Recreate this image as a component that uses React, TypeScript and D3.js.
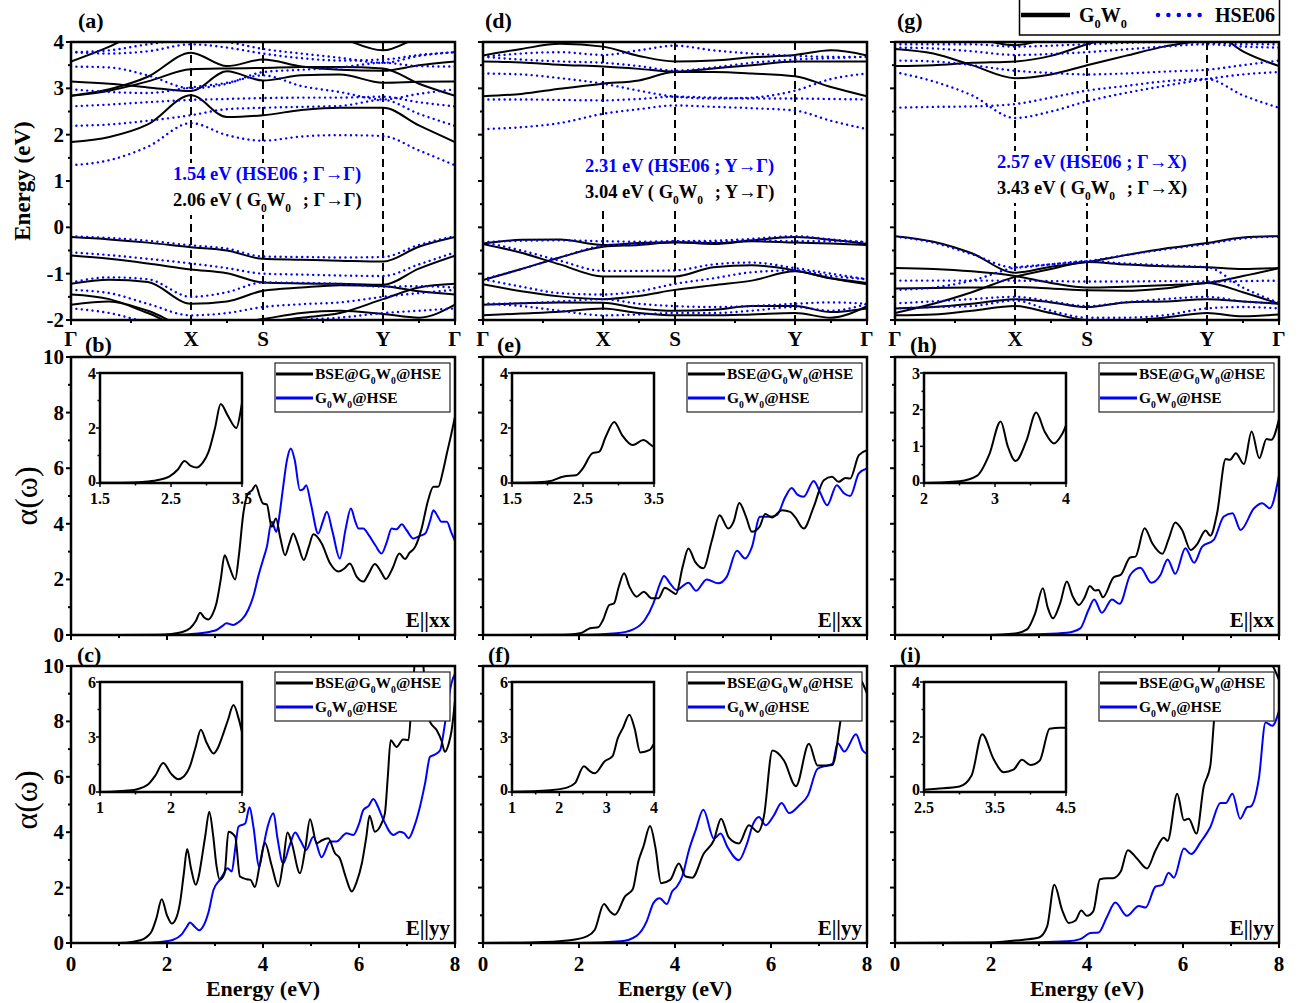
import React from "react";
import * as d3 from "d3";

type Pt = [number, number];

const FONT = "'Liberation Serif', 'Times New Roman', Times, serif";
const BLUE = "#0000ff";

// k path Γ-X-S-Y-Γ (fraction of path length) and the points where bands were read
const kPath = [0, 0.1, 0.2, 0.3125, 0.406, 0.5, 0.6, 0.7, 0.8125, 0.906, 1];
const kSym = [0, 0.3125, 0.5, 0.8125, 1];
const kSymLabels = ["Γ", "X", "S", "Y", "Γ"];
const energyTicks = [-2, -1, 0, 1, 2, 3, 4];

// ---- band energies (eV) at kPath, panel (a) ----
const bandA_gw = [
  [1.84, 1.95, 2.22, 2.85, 2.38, 2.42, 2.53, 2.58, 2.58, 2.2, 1.84],
  [3.15, 3.1, 3.02, 2.94, 3.37, 3.17, 3.28, 3.3, 3.12, 3.14, 3.15],
  [2.84, 2.98, 3.25, 3.77, 3.48, 3.62, 3.47, 3.4, 3.38, 3.5, 3.58],
  [2.84, 2.95, 3.15, 3.41, 3.43, 3.44, 3.46, 3.46, 3.43, 3.1, 2.84],
  [3.58, 3.9, 4.3, 4.5, 4.5, 4.5, 4.4, 4.1, 3.82, 4.1, 4.3],
  [-0.21, -0.26, -0.33, -0.43, -0.5, -0.68, -0.7, -0.72, -0.74, -0.42, -0.21],
  [-0.61, -0.68, -0.78, -0.91, -0.99, -1.19, -1.21, -1.22, -1.24, -0.89, -0.61],
  [-1.22, -1.13, -1.18, -1.65, -1.6, -1.37, -1.3, -1.25, -1.27, -1.38, -1.45],
  [-1.45, -1.55, -1.85, -2.2, -2.2, -2.05, -1.95, -1.85, -1.55, -1.3, -1.22],
  [-1.67, -1.6, -1.8, -2.15, -2.1, -1.98, -1.85, -1.8, -1.87, -1.95, -1.67],
];
const bandA_hse = [
  [1.34, 1.45, 1.74, 2.25, 1.99, 1.87, 1.96, 1.99, 1.97, 1.66, 1.34],
  [2.19, 2.22, 2.3, 2.42, 2.55, 2.58, 2.6, 2.62, 2.75, 2.45, 2.19],
  [2.61, 2.65, 2.7, 2.75, 2.77, 2.79, 2.8, 2.8, 2.82, 2.7, 2.61],
  [2.98, 2.92, 2.9, 3.02, 3.12, 3.28, 3.05, 2.92, 2.76, 2.88, 2.98],
  [3.47, 3.45, 3.28, 3.0, 3.1, 3.35, 3.4, 3.45, 3.55, 3.48, 3.47],
  [3.78, 3.75, 3.8, 3.95, 3.88, 3.75, 3.65, 3.6, 3.62, 3.72, 3.78],
  [3.78, 3.82, 3.95, 4.05, 4.0, 3.85, 3.75, 3.66, 3.55, 3.7, 3.78],
  [-0.19, -0.23, -0.29, -0.39, -0.46, -0.63, -0.64, -0.65, -0.64, -0.38, -0.19],
  [-0.54, -0.6, -0.68, -0.78, -0.88, -1.0, -1.02, -1.04, -1.05, -0.8, -0.54],
  [-1.19, -1.08, -1.12, -1.5, -1.4, -1.19, -1.2, -1.22, -1.28, -1.27, -1.3],
  [-1.35, -1.42, -1.65, -1.9, -1.85, -1.72, -1.66, -1.62, -1.5, -1.42, -1.35],
  [-1.75, -1.85, -2.05, -2.2, -2.2, -2.1, -2.0, -1.95, -1.85, -1.8, -1.75],
];

// ---- panel (d) ----
const bandD_gw = [
  [2.83, 2.88, 2.99, 3.1, 3.17, 3.35, 3.35, 3.32, 3.26, 3.03, 2.83],
  [3.58, 3.56, 3.51, 3.47, 3.42, 3.36, 3.43, 3.5, 3.58, 3.58, 3.58],
  [3.71, 3.85, 3.96, 3.9, 3.7, 3.58, 3.6, 3.67, 3.72, 3.82, 3.71],
  [-0.35, -0.27, -0.26, -0.38, -0.34, -0.32, -0.36, -0.28, -0.21, -0.27, -0.36],
  [-0.36, -0.55, -0.8, -1.06, -1.06, -1.06, -0.86, -0.82, -0.93, -1.1, -1.23],
  [-1.14, -0.9, -0.65, -0.42, -0.38, -0.32, -0.34, -0.3, -0.33, -0.35, -0.38],
  [-1.23, -1.38, -1.49, -1.55, -1.48, -1.35, -1.25, -1.15, -0.95, -1.1, -1.2],
  [-1.67, -1.64, -1.62, -1.63, -1.75, -1.8, -1.78, -1.7, -1.7, -1.83, -1.75],
  [-1.9, -1.86, -1.82, -1.75, -1.85, -1.9, -1.9, -1.88, -1.85, -1.95, -1.7],
];
const bandD_hse = [
  [2.12, 2.16, 2.25, 2.45, 2.55, 2.63, 2.6, 2.57, 2.52, 2.3, 2.12],
  [2.76, 2.76, 2.75, 2.74, 2.77, 2.82, 2.8, 2.78, 2.78, 2.77, 2.76],
  [3.32, 3.3, 3.22, 3.1, 2.95, 2.82, 2.78, 2.8, 2.95, 3.2, 3.32],
  [3.68, 3.62, 3.58, 3.55, 3.48, 3.38, 3.45, 3.55, 3.62, 3.65, 3.68],
  [3.68, 3.75, 3.78, 3.72, 3.82, 3.92, 3.82, 3.75, 3.7, 3.68, 3.68],
  [-0.32, -0.29, -0.28, -0.3, -0.31, -0.3, -0.29, -0.25, -0.19, -0.26, -0.32],
  [-1.12, -0.9, -0.65, -0.4, -0.36, -0.3, -0.32, -0.28, -0.3, -0.3, -0.32],
  [-0.32, -0.5, -0.72, -0.94, -0.94, -0.93, -0.8, -0.76, -0.88, -1.0, -1.12],
  [-1.12, -1.28, -1.42, -1.45, -1.38, -1.22, -1.1, -0.97, -0.93, -1.05, -1.12],
  [-1.65, -1.64, -1.6, -1.55, -1.65, -1.7, -1.72, -1.7, -1.65, -1.62, -1.65],
  [-1.65, -1.7, -1.8, -1.9, -1.88, -1.85, -1.85, -1.8, -1.72, -1.8, -1.65],
];

// ---- panel (g) ----
const bandG_gw = [
  [3.48, 3.5, 3.55, 3.58, 3.7, 3.95, 4.2, 4.4, 4.3, 3.8, 3.48],
  [3.85, 3.75, 3.5, 3.22, 3.3, 3.5, 3.7, 3.9, 4.05, 4.2, 4.3],
  [4.4, 4.3, 4.1, 3.93, 4.1, 4.3, 4.4, 4.4, 4.4, 4.4, 4.4],
  [-0.19, -0.31, -0.56, -0.98, -0.85, -0.75, -0.6, -0.46, -0.34, -0.22, -0.19],
  [-1.85, -1.65, -1.4, -1.07, -0.9, -0.75, -0.8, -0.84, -0.86, -0.9, -0.88],
  [-0.88, -0.9, -0.95, -1.05, -1.2, -1.3, -1.28, -1.25, -1.2, -1.05, -0.88],
  [-1.32, -1.31, -1.3, -1.29, -1.32, -1.36, -1.37, -1.32, -1.2, -1.4, -1.65],
  [-1.75, -1.72, -1.65, -1.55, -1.62, -1.72, -1.62, -1.6, -1.55, -1.6, -1.65],
  [-1.9, -1.88, -1.8, -1.7, -1.85, -2.0, -2.0, -1.95, -1.85, -1.92, -1.88],
];
const bandG_hse = [
  [2.58, 2.6, 2.61, 2.66, 2.8, 2.95, 3.05, 3.15, 3.2, 2.85, 2.58],
  [3.35, 3.15, 2.85, 2.36, 2.5, 2.72, 2.9, 3.05, 3.2, 3.3, 3.35],
  [3.6, 3.58, 3.5, 3.38, 3.33, 3.3, 3.32, 3.36, 3.4, 3.5, 3.6],
  [3.88, 3.86, 3.8, 3.72, 3.74, 3.78, 3.84, 3.9, 3.95, 3.9, 3.88],
  [3.95, 3.95, 3.95, 3.9, 3.92, 3.95, 3.98, 4.0, 3.98, 3.95, 3.95],
  [-0.2, -0.33, -0.58, -0.87, -0.8, -0.73, -0.6, -0.48, -0.36, -0.24, -0.2],
  [-1.15, -1.15, -1.15, -1.15, -1.16, -1.17, -1.17, -1.16, -1.17, -1.16, -1.15],
  [-1.35, -1.3, -1.15, -0.87, -0.8, -0.73, -0.78, -0.82, -0.86, -1.3, -1.63],
  [-1.64, -1.6, -1.55, -1.5, -1.6, -1.7, -1.62, -1.55, -1.5, -1.6, -1.64],
  [-1.75, -1.72, -1.7, -1.58, -1.8, -1.95, -1.95, -1.9, -1.75, -1.72, -1.75],
];

// ---- absorption α(ω) : [energy eV, value] ----
const absB_bse: Pt[] = [[0,0],[1.0,0],[1.8,0.01],[2.1,0.04],[2.3,0.1],[2.48,0.24],[2.6,0.5],[2.69,0.8],[2.78,0.62],[2.86,0.56],[2.95,0.75],[3.03,1.14],[3.12,2.0],[3.2,2.87],[3.3,2.45],[3.42,2.0],[3.5,2.9],[3.59,4.37],[3.69,5.09],[3.77,5.2],[3.85,5.39],[3.93,5.0],[4.0,4.73],[4.08,4.7],[4.18,3.89],[4.27,4.19],[4.36,3.5],[4.46,2.87],[4.55,3.3],[4.63,3.65],[4.72,3.3],[4.85,2.7],[4.95,3.15],[5.05,3.62],[5.22,3.3],[5.4,2.57],[5.57,2.28],[5.7,2.4],[5.81,2.57],[5.95,2.1],[6.09,1.92],[6.2,2.2],[6.33,2.55],[6.45,2.3],[6.56,2.01],[6.7,2.4],[6.84,2.93],[6.96,2.73],[7.05,2.95],[7.17,3.17],[7.3,3.8],[7.44,4.85],[7.55,5.33],[7.65,5.33],[7.75,5.9],[7.83,6.53],[7.92,7.2],[8,7.85]];
const absB_gw: Pt[] = [[0,0],[2.0,0],[2.4,0.02],[2.69,0.06],[2.9,0.12],[3.03,0.18],[3.15,0.32],[3.24,0.42],[3.38,0.36],[3.48,0.45],[3.56,0.56],[3.69,0.9],[3.8,1.4],[3.9,2.1],[4.0,2.7],[4.08,3.17],[4.18,4.07],[4.28,3.71],[4.35,4.4],[4.42,5.33],[4.5,6.3],[4.58,6.71],[4.66,6.3],[4.77,5.21],[4.84,5.25],[4.9,5.39],[5.0,4.7],[5.15,3.65],[5.25,4.1],[5.33,4.43],[5.45,3.7],[5.6,2.75],[5.72,3.8],[5.83,4.55],[5.92,4.1],[5.99,3.83],[6.09,3.83],[6.2,3.6],[6.35,3.2],[6.47,2.93],[6.58,3.35],[6.68,3.83],[6.78,3.8],[6.89,3.98],[7.0,3.75],[7.13,3.47],[7.25,3.55],[7.38,3.65],[7.48,4.1],[7.55,4.49],[7.63,4.3],[7.72,4.07],[7.83,4.07],[7.92,3.7],[8,3.38]];

const absC_bse: Pt[] = [[0,0],[0.99,0],[1.3,0.05],[1.51,0.14],[1.6,0.25],[1.68,0.42],[1.78,0.9],[1.89,1.58],[2.0,1.0],[2.1,0.7],[2.18,0.85],[2.27,1.44],[2.35,2.5],[2.42,3.39],[2.5,2.7],[2.6,2.1],[2.66,2.4],[2.72,3.0],[2.8,3.9],[2.88,4.74],[2.96,3.9],[3.03,2.8],[3.1,2.28],[3.2,2.52],[3.28,4.02],[3.42,3.84],[3.52,2.4],[3.66,2.3],[3.74,2.28],[3.83,2.02],[3.93,2.8],[4.04,3.62],[4.18,2.8],[4.32,2.04],[4.42,2.9],[4.51,3.99],[4.6,3.6],[4.77,2.52],[4.88,3.4],[4.98,4.47],[5.12,3.6],[5.22,3.7],[5.36,3.78],[5.5,3.24],[5.6,3.06],[5.72,2.4],[5.85,1.86],[5.95,2.2],[6.06,2.88],[6.15,3.8],[6.22,4.59],[6.33,4.02],[6.47,4.32],[6.54,4.68],[6.6,6.0],[6.66,7.32],[6.78,7.08],[6.92,7.35],[7.03,7.32],[7.1,8.8],[7.2,10.5],[7.3,10.5],[7.4,8.8],[7.48,7.98],[7.62,7.68],[7.72,7.3],[7.79,6.9],[7.87,7.2],[7.93,7.68],[8,8.76]];
const absC_gw: Pt[] = [[0,0],[1.5,0],[1.8,0.03],[2.13,0.12],[2.3,0.3],[2.4,0.55],[2.48,0.74],[2.57,0.6],[2.67,0.46],[2.76,0.62],[2.86,1.08],[2.97,1.92],[3.1,2.28],[3.18,2.5],[3.26,2.7],[3.35,2.58],[3.42,3.4],[3.49,4.2],[3.63,4.32],[3.72,4.9],[3.8,4.2],[3.92,2.76],[4.0,3.4],[4.08,4.08],[4.22,4.68],[4.3,3.8],[4.42,2.88],[4.55,3.5],[4.67,3.99],[4.78,3.7],[4.9,3.36],[5.05,3.84],[5.22,3.1],[5.4,3.66],[5.53,3.66],[5.74,3.96],[5.88,3.9],[6.0,4.3],[6.09,4.8],[6.2,4.95],[6.3,5.2],[6.4,4.9],[6.51,4.44],[6.72,3.9],[6.85,4.02],[6.95,3.95],[7.03,3.78],[7.15,4.2],[7.27,4.92],[7.38,5.8],[7.48,6.72],[7.58,6.8],[7.69,6.96],[7.78,7.8],[7.86,8.76],[7.93,9.4],[8,9.72]];

const absE_bse: Pt[] = [[0,0],[1.5,0.01],[1.8,0.02],[2.02,0.06],[2.23,0.24],[2.4,0.28],[2.5,0.54],[2.63,1.08],[2.73,1.14],[2.82,1.68],[2.94,2.22],[3.05,1.74],[3.2,1.38],[3.35,1.56],[3.51,1.32],[3.65,1.32],[3.79,1.7],[3.9,1.6],[4.02,1.47],[4.16,2.46],[4.28,3.11],[4.42,2.63],[4.59,2.4],[4.77,3.41],[4.93,4.31],[5.11,3.83],[5.22,4.07],[5.34,4.75],[5.48,4.25],[5.6,3.71],[5.76,3.89],[5.88,4.35],[6.02,4.23],[6.23,4.49],[6.4,4.43],[6.5,4.25],[6.68,3.83],[6.89,4.61],[7.1,5.57],[7.27,5.69],[7.41,5.51],[7.55,5.65],[7.65,5.63],[7.83,6.47],[8,6.65]];
const absE_gw: Pt[] = [[0,0],[2.02,0],[2.78,0.06],[3.13,0.2],[3.37,0.54],[3.55,1.14],[3.69,1.86],[3.77,2.12],[3.9,1.85],[4.03,1.62],[4.28,1.88],[4.44,1.59],[4.66,2.0],[4.9,1.86],[5.08,2.1],[5.29,3.03],[5.46,2.75],[5.6,3.15],[5.77,4.25],[5.95,4.25],[6.12,4.31],[6.3,4.97],[6.43,5.29],[6.55,5.05],[6.68,4.97],[6.89,5.54],[7.03,5.1],[7.17,4.67],[7.37,5.39],[7.52,5.1],[7.65,5.0],[7.83,5.81],[8,5.99]];

const absF_bse: Pt[] = [[0,0],[1.01,0.02],[1.81,0.1],[2.16,0.24],[2.33,0.48],[2.52,1.41],[2.64,1.15],[2.75,1.02],[2.96,1.68],[3.12,1.94],[3.24,2.97],[3.34,3.47],[3.48,4.22],[3.59,3.47],[3.71,2.16],[3.9,2.28],[4.08,2.87],[4.22,2.4],[4.36,2.36],[4.6,3.23],[4.81,3.71],[4.96,4.49],[5.12,3.81],[5.33,3.59],[5.54,4.25],[5.73,4.01],[5.85,4.55],[6.03,6.95],[6.27,6.59],[6.52,5.66],[6.79,7.19],[6.97,6.41],[7.11,6.41],[7.28,6.43],[7.46,8.14],[7.6,9.4],[7.8,9.6],[8,9.0]];
const absF_gw: Pt[] = [[0,0],[2.02,0],[2.86,0.06],[3.2,0.26],[3.41,0.78],[3.55,1.44],[3.68,1.62],[3.83,1.41],[3.94,1.86],[4.04,2.04],[4.15,2.4],[4.29,3.35],[4.43,4.07],[4.59,4.81],[4.81,3.77],[4.95,3.95],[5.09,3.47],[5.33,2.99],[5.5,3.59],[5.63,4.31],[5.75,4.55],[5.89,4.25],[6.06,4.61],[6.22,5.05],[6.38,4.69],[6.59,4.97],[6.77,5.33],[6.97,6.29],[7.18,6.41],[7.28,6.47],[7.39,7.21],[7.53,6.91],[7.77,7.54],[7.91,6.95],[8,6.83]];

const absH_bse: Pt[] = [[0,0],[1.98,0],[2.5,0.05],[2.75,0.2],[2.92,0.78],[3.08,1.68],[3.18,1.0],[3.29,0.6],[3.44,1.14],[3.58,1.92],[3.7,1.4],[3.83,1.08],[3.95,1.35],[4.06,1.76],[4.17,1.6],[4.24,1.62],[4.33,1.36],[4.56,2.08],[4.7,2.16],[4.9,2.79],[5.01,2.82],[5.2,3.84],[5.36,3.3],[5.57,2.92],[5.7,3.45],[5.84,4.05],[5.98,3.78],[6.16,3.06],[6.3,3.28],[6.47,3.76],[6.57,3.57],[6.71,4.38],[6.89,6.33],[6.98,6.3],[7.1,6.54],[7.27,6.15],[7.43,7.32],[7.59,6.36],[7.74,7.05],[7.84,7.02],[8,7.77]];
const absH_gw: Pt[] = [[0,0],[1.98,0],[3.0,0.03],[3.58,0.08],[3.86,0.24],[4.03,0.9],[4.15,1.28],[4.31,0.8],[4.52,1.28],[4.68,1.12],[4.9,2.16],[5.11,2.42],[5.34,1.88],[5.53,2.16],[5.68,2.72],[5.84,2.2],[6.05,3.12],[6.23,2.6],[6.4,3.18],[6.64,3.42],[6.85,4.26],[7.03,4.38],[7.2,3.78],[7.48,4.56],[7.65,4.74],[7.81,4.56],[8,5.76]];

const absI_bse: Pt[] = [[0,0],[1.98,0.02],[2.68,0.12],[3.0,0.2],[3.17,0.6],[3.32,2.1],[3.48,1.2],[3.62,0.72],[3.76,0.81],[3.88,1.17],[4.0,0.98],[4.13,1.14],[4.27,2.3],[4.42,2.34],[4.54,2.34],[4.7,2.57],[4.85,3.35],[5.04,3.05],[5.25,2.69],[5.43,3.35],[5.6,3.8],[5.68,3.69],[5.88,5.39],[6.02,4.43],[6.12,4.49],[6.28,3.95],[6.43,5.63],[6.57,6.41],[6.64,7.9],[6.71,9.46],[6.85,10.4],[7.2,10.8],[7.6,10.5],[7.9,9.9],[8,9.5]];
const absI_gw: Pt[] = [[0,0],[1.98,0],[3.58,0.06],[3.86,0.14],[4.07,0.36],[4.24,0.38],[4.42,0.96],[4.59,1.46],[4.83,0.98],[5.08,1.34],[5.22,1.28],[5.43,2.04],[5.57,2.1],[5.7,2.54],[5.81,2.36],[6.02,3.41],[6.17,3.21],[6.37,3.65],[6.57,4.19],[6.78,5.05],[6.89,5.05],[7.03,5.39],[7.19,4.49],[7.34,4.91],[7.41,4.93],[7.58,5.93],[7.72,7.96],[7.86,7.84],[8,8.38]];

const absYTicks = [0, 2, 4, 6, 8, 10];
const absXTicks = [0, 2, 4, 6, 8];

// layout
const COLS = [71, 483, 895];
const PW = 384;
const BAND_T = 42;
const BAND_B = 320;
const ROW_T = [357, 666];
const ROW_B = [635, 943];

const mids = (t: number[]) => t.slice(1).map((v, i) => (v + t[i]) / 2);

function gwSub(fs: number, after: string, afterDx = 0) {
  const s = fs * 0.32;
  return [
    "G",
    <tspan key="a" dy={s} fontSize={fs * 0.62}>0</tspan>,
    <tspan key="b" dy={-s}>W</tspan>,
    <tspan key="c" dy={s} fontSize={fs * 0.62}>0</tspan>,
    <tspan key="d" dy={-s} dx={afterDx}>{after}</tspan>,
  ];
}

function BandPanel({ x0, gw, hse, label, blueText, blackText, ty, showY }: any) {
  const x = d3.scaleLinear().domain([0, 1]).range([x0, x0 + PW]);
  const y = d3.scaleLinear().domain([-2, 4]).range([BAND_B, BAND_T]);
  const line = d3.line<number>().x((_, i) => x(kPath[i])).y((d) => y(d)).curve(d3.curveMonotoneX);
  const clipId = `bclip${x0}`;
  return (
    <g>
      <defs>
        <clipPath id={clipId}>
          <rect x={x0} y={BAND_T} width={PW} height={BAND_B - BAND_T} />
        </clipPath>
      </defs>
      <g clipPath={`url(#${clipId})`}>
        {kSym.slice(1, 4).map((k, i) => (
          <line key={i} x1={x(k)} x2={x(k)} y1={BAND_T} y2={BAND_B} stroke="#000" strokeWidth={2} strokeDasharray="8 5" />
        ))}
        {gw.map((b: number[], i: number) => (
          <path key={"g" + i} d={line(b) || ""} fill="none" stroke="#000" strokeWidth={2} />
        ))}
        {hse.map((b: number[], i: number) => (
          <path key={"h" + i} d={line(b) || ""} fill="none" stroke={BLUE} strokeWidth={2.4} strokeDasharray="0.01 5.4" strokeLinecap="round" />
        ))}
      </g>
      <rect x={x0 + 99} y={ty[0] - 17} width={196} height={ty[1] - ty[0] + 26} fill="#fff" />
      <text x={x0 + 102} y={ty[0]} fontSize={18.5} fontWeight="bold" fill={BLUE}>{blueText}</text>
      <text x={x0 + 102} y={ty[1]} fontSize={18.5} fontWeight="bold" fill="#000">
        {blackText[0]}
        {gwSub(18.5, blackText[1], 7)}
      </text>
      <rect x={x0} y={BAND_T} width={PW} height={BAND_B - BAND_T} fill="none" stroke="#000" strokeWidth={2.5} />
      {energyTicks.map((t) => (
        <line key={"yt" + t} x1={x0 - 5} x2={x0} y1={y(t)} y2={y(t)} stroke="#000" strokeWidth={2} />
      ))}
      {mids(energyTicks).map((t) => (
        <line key={"ym" + t} x1={x0 - 3} x2={x0} y1={y(t)} y2={y(t)} stroke="#000" strokeWidth={2} />
      ))}
      {kSym.map((k, i) => (
        <line key={"xt" + i} x1={x(k)} x2={x(k)} y1={BAND_B} y2={BAND_B + 5} stroke="#000" strokeWidth={2} />
      ))}
      {mids(kSym).map((k, i) => (
        <line key={"xm" + i} x1={x(k)} x2={x(k)} y1={BAND_B} y2={BAND_B + 3} stroke="#000" strokeWidth={2} />
      ))}
      {showY &&
        energyTicks.map((t) => (
          <text key={"yl" + t} x={x0 - 7} y={y(t) + 7} fontSize={21} fontWeight="bold" textAnchor="end">
            {t < 0 ? "-" + Math.abs(t) : t}
          </text>
        ))}
      {kSym.map((k, i) => (
        <text key={"kl" + i} x={x(k)} y={346} fontSize={21} fontWeight="bold" textAnchor="middle">
          {kSymLabels[i]}
        </text>
      ))}
      <text x={label[1]} y={28} fontSize={22} fontWeight="bold">{label[0]}</text>
    </g>
  );
}

function AbsPanel({ x0, row, bse, gw, inset, pol, showY, label }: any) {
  const top = ROW_T[row];
  const bottom = ROW_B[row];
  const x = d3.scaleLinear().domain([0, 8]).range([x0, x0 + PW]);
  const y = d3.scaleLinear().domain([0, 10]).range([bottom, top]);
  const line = d3.line<Pt>().x((d) => x(d[0])).y((d) => y(d[1])).curve(d3.curveMonotoneX);
  const clipId = `aclip${x0}_${row}`;

  const il = x0 + 29;
  const it = top + 16;
  const iw = 142;
  const ih = 110;
  const ix = d3.scaleLinear().domain(inset.xd).range([il, il + iw]);
  const iy = d3.scaleLinear().domain(inset.yd).range([it + ih, it]);
  const iline = d3.line<Pt>().x((d) => ix(d[0])).y((d) => iy(d[1])).curve(d3.curveMonotoneX);
  const iclip = `iclip${x0}_${row}`;

  const lx = x0 + 204;
  const ly = top + 6;

  return (
    <g>
      <defs>
        <clipPath id={clipId}>
          <rect x={x0} y={top} width={PW} height={bottom - top} />
        </clipPath>
        <clipPath id={iclip}>
          <rect x={il} y={it} width={iw} height={ih} />
        </clipPath>
      </defs>
      <g clipPath={`url(#${clipId})`}>
        <path d={line(gw) || ""} fill="none" stroke={BLUE} strokeWidth={2} />
        <path d={line(bse) || ""} fill="none" stroke="#000" strokeWidth={2} />
      </g>
      <rect x={x0} y={top} width={PW} height={bottom - top} fill="none" stroke="#000" strokeWidth={2.5} />
      {absYTicks.map((t) => (
        <line key={"yt" + t} x1={x0 - 5} x2={x0} y1={y(t)} y2={y(t)} stroke="#000" strokeWidth={2} />
      ))}
      {mids(absYTicks).map((t) => (
        <line key={"ym" + t} x1={x0 - 3} x2={x0} y1={y(t)} y2={y(t)} stroke="#000" strokeWidth={2} />
      ))}
      {absXTicks.map((t) => (
        <line key={"xt" + t} x1={x(t)} x2={x(t)} y1={bottom} y2={bottom + 5} stroke="#000" strokeWidth={2} />
      ))}
      {mids(absXTicks).map((t) => (
        <line key={"xm" + t} x1={x(t)} x2={x(t)} y1={bottom} y2={bottom + 3} stroke="#000" strokeWidth={2} />
      ))}
      {showY &&
        absYTicks.map((t) => (
          <text key={"yl" + t} x={x0 - 7} y={y(t) + 7} fontSize={21} fontWeight="bold" textAnchor="end">{t}</text>
        ))}
      {row === 1 &&
        absXTicks.map((t) => (
          <text key={"xl" + t} x={x(t)} y={971} fontSize={21} fontWeight="bold" textAnchor="middle">{t}</text>
        ))}
      {row === 1 && (
        <text x={x0 + PW / 2} y={996} fontSize={22} fontWeight="bold" textAnchor="middle">Energy (eV)</text>
      )}
      <text x={x0 + 379} y={bottom - 8} fontSize={21} fontWeight="bold" textAnchor="end">{pol}</text>

      {/* inset */}
      <rect x={il} y={it} width={iw} height={ih} fill="#fff" />
      <g clipPath={`url(#${iclip})`}>
        <path d={iline(bse) || ""} fill="none" stroke="#000" strokeWidth={2} />
      </g>
      <rect x={il} y={it} width={iw} height={ih} fill="none" stroke="#000" strokeWidth={2.5} />
      {inset.yt.map((t: number) => (
        <line key={"iyt" + t} x1={il - 4} x2={il} y1={iy(t)} y2={iy(t)} stroke="#000" strokeWidth={1.5} />
      ))}
      {mids(inset.yt).map((t: number) => (
        <line key={"iym" + t} x1={il - 2.5} x2={il} y1={iy(t)} y2={iy(t)} stroke="#000" strokeWidth={1.5} />
      ))}
      {inset.xt.map((t: number) => (
        <line key={"ixt" + t} x1={ix(t)} x2={ix(t)} y1={it + ih} y2={it + ih + 4} stroke="#000" strokeWidth={1.5} />
      ))}
      {mids(inset.xt).map((t: number) => (
        <line key={"ixm" + t} x1={ix(t)} x2={ix(t)} y1={it + ih} y2={it + ih + 2.5} stroke="#000" strokeWidth={1.5} />
      ))}
      {inset.yt.map((t: number) => (
        <text key={"iyl" + t} x={il - 4} y={iy(t) + (t === inset.yd[0] ? 3 : 5.5)} fontSize={16} fontWeight="bold" textAnchor="end">{t}</text>
      ))}
      {inset.xt.map((t: number) => (
        <text key={"ixl" + t} x={ix(t)} y={it + ih + 21} fontSize={16} fontWeight="bold" textAnchor="middle">{t}</text>
      ))}

      {/* legend */}
      <rect x={lx} y={ly} width={175} height={49} fill="#fff" stroke="#222" strokeWidth={1.2} />
      <line x1={lx + 1} x2={lx + 38} y1={ly + 11} y2={ly + 11} stroke="#000" strokeWidth={3} />
      <line x1={lx + 1} x2={lx + 38} y1={ly + 35} y2={ly + 35} stroke={BLUE} strokeWidth={3} />
      <text x={lx + 40} y={ly + 16} fontSize={15.5} fontWeight="bold">
        {"BSE@"}
        {gwSub(15.5, "@HSE")}
      </text>
      <text x={lx + 40} y={ly + 40} fontSize={15.5} fontWeight="bold">
        {gwSub(15.5, "@HSE")}
      </text>
      <text x={label[1]} y={label[2]} fontSize={22} fontWeight="bold">{label[0]}</text>
    </g>
  );
}

const insetB = { xd: [1.5, 3.5], yd: [0, 4], xt: [1.5, 2.5, 3.5], yt: [0, 2, 4] };
const insetC = { xd: [1, 3], yd: [0, 6], xt: [1, 2, 3], yt: [0, 3, 6] };
const insetE = { xd: [1.5, 3.5], yd: [0, 4], xt: [1.5, 2.5, 3.5], yt: [0, 2, 4] };
const insetF = { xd: [1, 4], yd: [0, 6], xt: [1, 2, 3, 4], yt: [0, 3, 6] };
const insetH = { xd: [2, 4], yd: [0, 3], xt: [2, 3, 4], yt: [0, 1, 2, 3] };
const insetI = { xd: [2.5, 4.5], yd: [0, 4], xt: [2.5, 3.5, 4.5], yt: [0, 2, 4] };

export default function App() {
  return (
    <svg
      width={1299}
      height={1003}
      style={{ position: "absolute", left: 0, top: 0 }}
      fontFamily={FONT}
    >
      <rect width={1299} height={1003} fill="#fff" />

      <BandPanel x0={COLS[0]} gw={bandA_gw} hse={bandA_hse} label={["(a)", 78]} showY
        blueText="1.54 eV (HSE06 ; Γ→Γ)" blackText={["2.06 eV ( ", " ; Γ→Γ)"]} ty={[180, 206]} />
      <BandPanel x0={COLS[1]} gw={bandD_gw} hse={bandD_hse} label={["(d)", 485]}
        blueText="2.31 eV (HSE06 ; Y→Γ)" blackText={["3.04 eV ( ", " ; Y→Γ)"]} ty={[172, 198]} />
      <BandPanel x0={COLS[2]} gw={bandG_gw} hse={bandG_hse} label={["(g)", 897]}
        blueText="2.57 eV (HSE06 ; Γ→X)" blackText={["3.43 eV ( ", " ; Γ→X)"]} ty={[168, 194]} />

      <text transform="translate(30,181) rotate(-90)" fontSize={23} fontWeight="bold" textAnchor="middle">Energy (eV)</text>

      <AbsPanel x0={COLS[0]} row={0} bse={absB_bse} gw={absB_gw} inset={insetB} pol="E||xx" showY label={["(b)", 85, 352]} />
      <AbsPanel x0={COLS[1]} row={0} bse={absE_bse} gw={absE_gw} inset={insetE} pol="E||xx" label={["(e)", 497, 352]} />
      <AbsPanel x0={COLS[2]} row={0} bse={absH_bse} gw={absH_gw} inset={insetH} pol="E||xx" label={["(h)", 910, 352]} />
      <AbsPanel x0={COLS[0]} row={1} bse={absC_bse} gw={absC_gw} inset={insetC} pol="E||yy" showY label={["(c)", 77, 662]} />
      <AbsPanel x0={COLS[1]} row={1} bse={absF_bse} gw={absF_gw} inset={insetF} pol="E||yy" label={["(f)", 488, 662]} />
      <AbsPanel x0={COLS[2]} row={1} bse={absI_bse} gw={absI_gw} inset={insetI} pol="E||yy" label={["(i)", 900, 662]} />

      <text transform="translate(37,496) rotate(-90)" fontSize={32} textAnchor="middle">α(ω)</text>
      <text transform="translate(37,800) rotate(-90)" fontSize={32} textAnchor="middle">α(ω)</text>

      {/* top legend */}
      <rect x={1019.5} y={-1} width={260} height={36} fill="#fff" stroke="#000" strokeWidth={1.5} />
      <line x1={1021} x2={1070} y1={15} y2={15} stroke="#000" strokeWidth={4.5} />
      <text x={1079} y={22} fontSize={20} fontWeight="bold">{gwSub(20, "")}</text>
      <line x1={1158} x2={1200} y1={15} y2={15} stroke={BLUE} strokeWidth={4.5} strokeDasharray="0.01 10.4" strokeLinecap="round" />
      <text x={1215} y={22} fontSize={20} fontWeight="bold">HSE06</text>
    </svg>
  );
}
